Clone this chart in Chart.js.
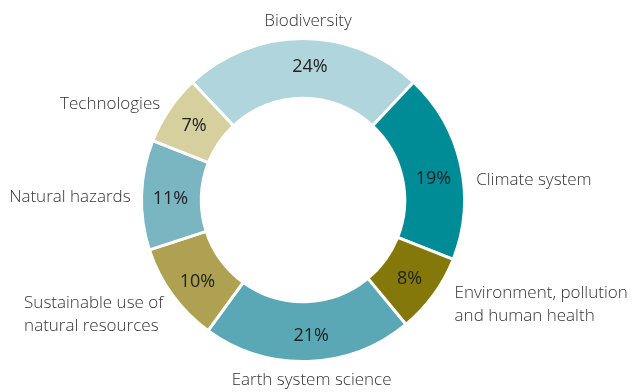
<!DOCTYPE html>
<html>
<head>
<meta charset="utf-8">
<script src="https://cdn.jsdelivr.net/npm/chart.js@4"></script>
<style>
html,body{margin:0;padding:0;background:#fff;}
#wrap{width:640px;height:392px;}
</style>
</head>
<body>
<div id="wrap"><canvas id="c" width="640" height="392"></canvas></div>
<script>
const categories = [
  "Biodiversity",
  "Climate system",
  ["Environment, pollution", "and human health"],
  "Earth system science",
  ["Sustainable use of", "natural resources"],
  "Natural hazards",
  "Technologies"
];
const shares = [24, 19, 8, 21, 10, 11, 7];
const colors = ["#b0d5dc", "#008c96", "#85780a", "#5aa8b5", "#aea151", "#7ab5c2", "#d6cf9e"];
// label nudges (dx, dy) relative to computed anchors
const labelNudges = [[5,-1],[0,19],[8,0],[3,3],[4,10],[5,3],[4,4]];
const pctNudges = [[7,-2],[2,8],[0,2],[4,4],[1,5],[-1,3],[0,0]];

const labelPlugin = {
  id: 'labels',
  afterDatasetsDraw(chart) {
    const ctx = chart.ctx;
    const meta = chart.getDatasetMeta(0);
    meta.data.forEach((arc, i) => {
      const p = arc.getProps(['x','y','startAngle','endAngle','innerRadius','outerRadius'], true);
      const mid = (p.startAngle + p.endAngle) / 2;
      const rm = (p.innerRadius + p.outerRadius) / 2;
      // percentage
      ctx.save();
      ctx.font = '400 18px "Open Sans"';
      ctx.fillStyle = '#222';
      ctx.textAlign = 'center';
      ctx.textBaseline = 'middle';
      ctx.fillText(shares[i] + '%', p.x + Math.cos(mid) * rm + pctNudges[i][0], p.y + Math.sin(mid) * rm + pctNudges[i][1]);
      // category
      const ro = p.outerRadius + 16;
      const cx = Math.cos(mid), sy = Math.sin(mid);
      let ax = p.x + cx * ro + labelNudges[i][0];
      let ay = p.y + sy * ro + labelNudges[i][1];
      ctx.font = '300 17px "Open Sans"';
      ctx.fillStyle = '#333';
      const lines = Array.isArray(categories[i]) ? categories[i] : [categories[i]];
      const maxW = Math.max(...lines.map(l => ctx.measureText(l).width));
      let left;
      if (Math.abs(cx) < 0.2) left = ax - maxW / 2;
      else if (cx > 0) left = ax;
      else left = ax - maxW;
      ctx.textAlign = 'left';
      const lh = 23;
      lines.forEach((ln, k) => {
        const w = ctx.measureText(ln).width;
        const x = (Math.abs(cx) < 0.2) ? ax - w / 2 : left;
        ctx.fillText(ln, x, ay + (k - (lines.length - 1) / 2) * lh);
      });
      ctx.restore();
    });
  }
};

new Chart(document.getElementById('c'), {
  type: 'doughnut',
  data: {
    labels: categories.map(c => Array.isArray(c) ? c.join(' ') : c),
    datasets: [{
      data: shares,
      backgroundColor: colors,
      borderColor: '#ffffff',
      borderWidth: 3,
      hoverOffset: 0
    }]
  },
  options: {
    responsive: false,
    animation: false,
    cutout: '63%',
    rotation: -43.2,
    layout: { padding: { top: 37, bottom: 29, left: 0, right: 34 } },
    plugins: { legend: { display: false }, tooltip: { enabled: false } }
  },
  plugins: [labelPlugin]
});
</script>
</body>
</html>
